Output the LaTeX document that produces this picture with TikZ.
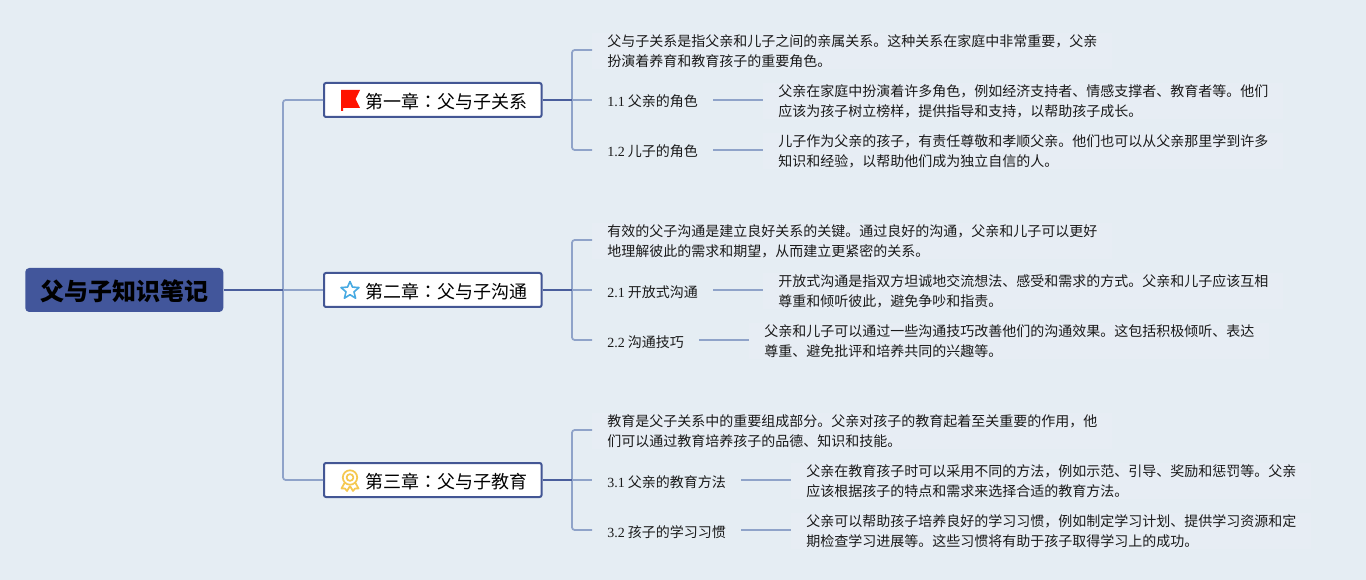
\documentclass[tikz,border=0pt]{standalone}
\usepackage{fontspec}
\setmainfont{Liberation Serif}
\newfontfamily\cjk{Noto Sans CJK SC}
\newfontfamily\cjktc{Noto Sans CJK TC}
\definecolor{bgc}{RGB}{229,237,243}
\definecolor{txtbg}{RGB}{231,237,244}
\definecolor{lineL}{RGB}{143,163,201}
\definecolor{lineD}{RGB}{74,94,156}
\definecolor{rootc}{RGB}{66,86,155}
\definecolor{chb}{RGB}{67,86,148}
\definecolor{ink}{RGB}{26,26,26}
\newcommand{\colonmark}{{\cjktc ：}}
\tikzset{
  every node/.style={font=\cjk},
  rootbox/.style={fill=rootc,rounded corners=3pt,inner xsep=11.25pt,inner ysep=0pt,minimum height=33pt,text=black,font=\cjk\bfseries\fontsize{18pt}{22pt}\selectfont,execute at begin node={\rule{0pt}{17pt}}},
  chapbox/.style={draw=chb,line width=1.5pt,fill=white,rounded corners=1.5pt,minimum height=25.5pt,inner xsep=10.7pt,inner ysep=0pt,text=black,font=\cjk\fontsize{13.5pt}{16pt}\selectfont,anchor=west,execute at begin node={\rule{0pt}{13.5pt}}},
  leaf/.style={anchor=west,inner xsep=11.25pt,inner ysep=1pt,text=ink,font=\cjk\fontsize{10.5pt}{15pt}\selectfont,align=left,execute at begin node={\rule{0pt}{11.4pt}}},
  note/.style={anchor=west,inner xsep=11.25pt,inner ysep=1pt,text=ink,font=\cjk\fontsize{10.5pt}{15pt}\selectfont,align=left,fill=txtbg,yshift=-1pt},
  thin line/.style={draw=lineL,line width=1.3pt,rounded corners=2pt},
  thick line/.style={draw=lineD,line width=1.3pt},
}
\begin{document}
\begin{tikzpicture}[x=0.75pt,y=-0.75pt]
\useasboundingbox (0,0) rectangle (1366,580);
\fill[bgc] (0,0) rectangle (1366,580);

\node[rootbox,anchor=west] (root) at (25,290) {父与子知识笔记};
\node[chapbox] (c1) at (323,100) {\hspace*{20.25pt}第一章\colonmark 父与子关系};
\node[chapbox] (c2) at (323,290) {\hspace*{20.25pt}第二章\colonmark 父与子沟通};
\node[chapbox] (c3) at (323,480) {\hspace*{20.25pt}第三章\colonmark 父与子教育};

\node[note] (t1) at (592,50) {父与子关系是指父亲和儿子之间的亲属关系。这种关系在家庭中非常重要，父亲\\扮演着养育和教育孩子的重要角色。};
\node[leaf] (a1) at (592,100) {{\rmfamily 1.1} 父亲的角色};
\node[leaf] (a2) at (592,150) {{\rmfamily 1.2} 儿子的角色};
\node[note] (n1) at (763,100) {父亲在家庭中扮演着许多角色，例如经济支持者、情感支撑者、教育者等。他们\\应该为孩子树立榜样，提供指导和支持，以帮助孩子成长。};
\node[note] (n2) at (763,150) {儿子作为父亲的孩子，有责任尊敬和孝顺父亲。他们也可以从父亲那里学到许多\\知识和经验，以帮助他们成为独立自信的人。};

\node[note] (t2) at (592,240) {有效的父子沟通是建立良好关系的关键。通过良好的沟通，父亲和儿子可以更好\\地理解彼此的需求和期望，从而建立更紧密的关系。};
\node[leaf] (b1) at (592,290) {{\rmfamily 2.1} 开放式沟通};
\node[leaf] (b2) at (592,340) {{\rmfamily 2.2} 沟通技巧};
\node[note] (n3) at (763,290) {开放式沟通是指双方坦诚地交流想法、感受和需求的方式。父亲和儿子应该互相\\尊重和倾听彼此，避免争吵和指责。};
\node[note] (n4) at (749,340) {父亲和儿子可以通过一些沟通技巧改善他们的沟通效果。这包括积极倾听、表达\\尊重、避免批评和培养共同的兴趣等。};

\node[note] (t3) at (592,430) {教育是父子关系中的重要组成部分。父亲对孩子的教育起着至关重要的作用，他\\们可以通过教育培养孩子的品德、知识和技能。};
\node[leaf] (d1) at (592,480) {{\rmfamily 3.1} 父亲的教育方法};
\node[leaf] (d2) at (592,530) {{\rmfamily 3.2} 孩子的学习习惯};
\node[note] (n5) at (791,480) {父亲在教育孩子时可以采用不同的方法，例如示范、引导、奖励和惩罚等。父亲\\应该根据孩子的特点和需求来选择合适的教育方法。};
\node[note] (n6) at (791,530) {父亲可以帮助孩子培养良好的学习习惯，例如制定学习计划、提供学习资源和定\\期检查学习进展等。这些习惯将有助于孩子取得学习上的成功。};

% connectors
\coordinate (hub) at (283,290);
\coordinate (h1) at (572,100);
\coordinate (h2) at (572,290);
\coordinate (h3) at (572,480);
\draw[thin line] (c1.west) -| (hub) |- (c3.west);
\draw[thin line] (hub) -- (c2.west);
\draw[thick line] (root.east) -- (hub);
\foreach \h/\c/\top/\mid/\bot in {h1/c1/t1/a1/a2,h2/c2/t2/b1/b2,h3/c3/t3/d1/d2}{
  \draw[thin line] ([yshift=1pt]\top.west) -| (\h) |- (\bot.west);
  \draw[thin line] (\h) -- (\mid.west);
  \draw[thick line] (\c.east) -- (\h);
}
\foreach \p/\q in {a1/n1,a2/n2,b1/n3,b2/n4,d1/n5,d2/n6}{
  \draw[thin line] (\p.east) -- (\p.east -| \q.west);
}

% flag icon
\fill[red!85!orange] (341,90) -- (360,90) -- (355.5,99) -- (360,108) -- (343,108) -- (343,111) -- (341,111) -- cycle;
% star icon
\draw[draw={rgb,255:red,72;green,170;blue,226},line width=1.2pt,line join=round]
 (350,281.5)
 \foreach \k in {1,...,9}{ -- ({350+(mod(\k,2)==1?4.2:9.5)*sin(36*\k)},{290.5-(mod(\k,2)==1?4.2:9.5)*cos(36*\k)}) } -- cycle;
% medal icon
\begin{scope}[draw={rgb,255:red,245;green,200;blue,80},line width=1.3pt,line join=round]
 \draw (350,477.5) circle[radius=7.2];
 \draw (350,477.5) circle[radius=3.4];
 \draw (344.5,483) -- (341.5,488.5) -- (345,488.5) -- (347,491) -- (350,486);
 \draw (355.5,483) -- (358.5,488.5) -- (355,488.5) -- (353,491) -- (350,486);
\end{scope}
\end{tikzpicture}
\end{document}
